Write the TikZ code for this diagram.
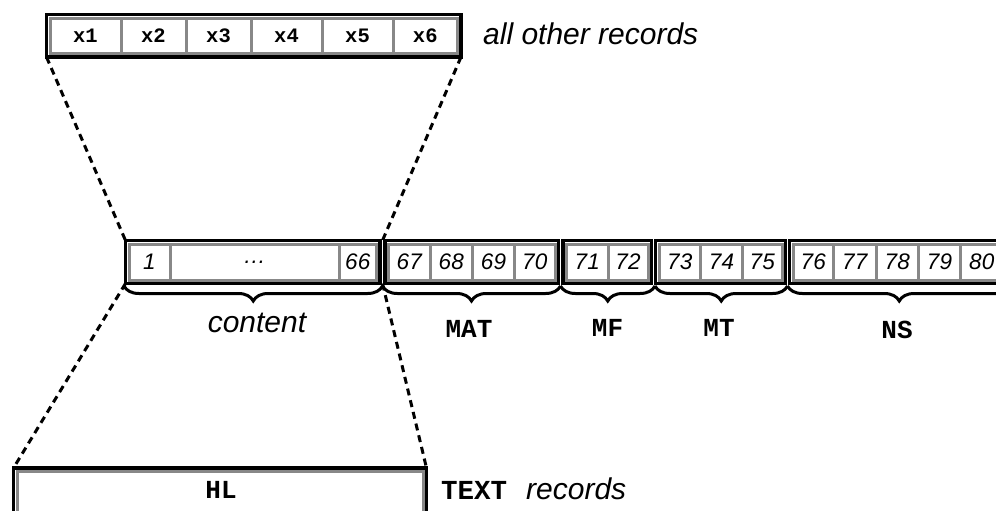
\documentclass[tikz,border=0pt]{standalone}
\usepackage{fontspec}
\newfontfamily\hv{Liberation Sans}
\newfontfamily\monob{Liberation Mono}
\usetikzlibrary{decorations.pathreplacing,calc}
\definecolor{cellgray}{RGB}{136,136,136}
\newcommand\cellbox[6]{\node[cell, minimum width={(#3)-(#2)}, minimum height={(#5)-(#4)}] (#1) at ({((#2)+(#3))/2},{((#4)+(#5))/2}) {#6};}
\newcommand\recbox[5]{\node[rec, minimum width={(#3)-(#2)}, minimum height={(#5)-(#4)}] (#1) at ({((#2)+(#3))/2},{((#4)+(#5))/2}) {};}
\begin{document}
\begin{tikzpicture}[x=1pt,y=-1pt,
  cell/.style={draw=cellgray, line width=3pt, fill=white, inner sep=0pt, outer sep=0pt},
  rec/.style={draw=black, line width=3.5pt, inner sep=0pt, outer sep=0pt},
  conn/.style={draw=black, line width=3pt, dash pattern=on 7pt off 5pt},
  brc/.style={draw=black, decorate, decoration={brace, mirror, amplitude=15pt}, line width=3pt},
  numf/.style={font=\hv\itshape\fontsize{22.5}{27}\selectfont},
  xf/.style={font=\monob\bfseries\fontsize{20.5}{24}\selectfont},
  lblf/.style={font=\monob\bfseries\fontsize{26}{30}\selectfont, anchor=base, inner sep=0pt},
  itf/.style={font=\hv\itshape\fontsize{30}{35}\selectfont, anchor=base, inner sep=0pt}
]
\useasboundingbox (0,0) rectangle (996,511);
\clip (0,0) rectangle (996,511);
% top record
\begin{scope}[every node/.append style={xf}]
\cellbox{tx1}{50}{121}{18.5}{53.5}{x1}
\cellbox{tx2}{121}{186}{18.5}{53.5}{x2}
\cellbox{tx3}{186}{251}{18.5}{53.5}{x3}
\cellbox{tx4}{251}{322}{18.5}{53.5}{x4}
\cellbox{tx5}{322}{393}{18.5}{53.5}{x5}
\cellbox{tx6}{393}{457.5}{18.5}{53.5}{x6}
\end{scope}
\recbox{top}{46.5}{461}{14.75}{57}
% middle row
\begin{scope}[every node/.append style={numf}]
\cellbox{c1}{129}{170}{244}{280}{1}
\cellbox{cdots}{170}{339}{244}{280}{\dots}
\cellbox{c66}{339}{376.5}{244}{280}{66}
\cellbox{c67}{388.5}{430}{244}{280}{67}
\cellbox{c68}{430}{472.5}{244}{280}{68}
\cellbox{c69}{472.5}{514.5}{244}{280}{69}
\cellbox{c70}{514.5}{555}{244}{280}{70}
\cellbox{c71}{566.5}{608}{244}{280}{71}
\cellbox{c72}{608}{648}{244}{280}{72}
\cellbox{c73}{659}{700.5}{244}{280}{73}
\cellbox{c74}{700.5}{742.5}{244}{280}{74}
\cellbox{c75}{742.5}{782}{244}{280}{75}
\cellbox{c76}{793}{833.5}{244}{280}{76}
\cellbox{c77}{833.5}{876}{244}{280}{77}
\cellbox{c78}{876}{918.5}{244}{280}{78}
\cellbox{c79}{918.5}{960.5}{244}{280}{79}
\cellbox{c80}{960.5}{1003}{244}{280}{80}
\end{scope}
\recbox{content}{125.5}{380}{240.5}{283.5}
\recbox{mat}{385}{558.5}{240.5}{283.5}
\recbox{mf}{563}{651.5}{240.5}{283.5}
\recbox{mt}{655.5}{785.5}{240.5}{283.5}
\recbox{ns}{789.5}{1006.5}{240.5}{283.5}
% bottom record
\cellbox{hlcell}{17}{423}{471.5}{545}{}
\recbox{hl}{13.5}{426.5}{468}{550}
\node[lblf] (hltxt) at (221,498) {HL};
% side texts
\node[itf, anchor=base west] (other) at (483,45) {all other records};
\node[lblf, anchor=base west, font=\monob\bfseries\fontsize{27.5}{32}\selectfont] (textkw) at (441,499) {TEXT};
\node[itf, anchor=base west] (textrec) at (526,499) {records};
% dashed connectors
\coordinate (gapT) at ($(content.north east)!0.5!(mat.north west)$);
\coordinate (gapB) at ($(content.south east)!0.5!(mat.south west)$);
\draw[conn] (top.south west) -- (content.north west);
\draw[conn] (top.south east) -- (gapT);
\draw[conn] (content.south west) -- (hl.north west);
\draw[conn] (gapB) -- (hl.north east);
% braces
\coordinate (b0) at (124,286);
\coordinate (b1) at (382.5,286);
\coordinate (b2) at (560.5,286);
\coordinate (b3) at (655,286);
\coordinate (b4) at (787.5,286);
\coordinate (b5) at (1011,286);
\draw[brc] (b0) -- (b1);
\draw[brc] (b1) -- (b2);
\draw[brc] (b2) -- (b3);
\draw[brc] (b3) -- (b4);
\draw[brc] (b4) -- (b5);
\node[itf] (lcontent) at (257,332) {content};
\node[lblf] (lmat) at (469,337) {MAT};
\node[lblf] (lmf) at (607.5,336) {MF};
\node[lblf] (lmt) at (719,336) {MT};
\node[lblf] (lns) at (897,338) {NS};
\end{tikzpicture}
\end{document}
